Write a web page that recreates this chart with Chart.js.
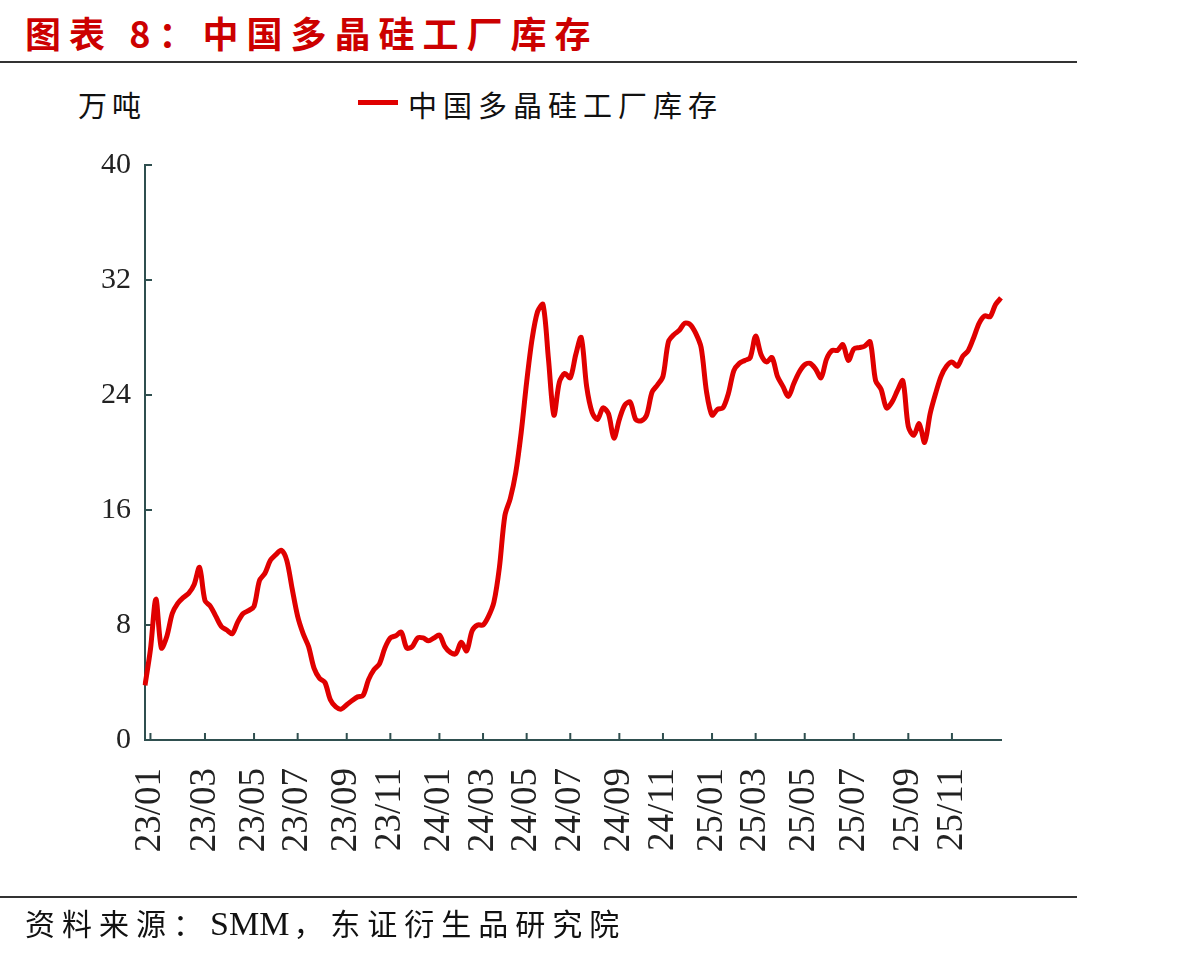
<!DOCTYPE html>
<html>
<head>
<meta charset="utf-8">
<script src="https://cdn.jsdelivr.net/npm/chart.js@4/dist/chart.umd.min.js"></script>
<style>
  body { margin: 0; background: #fff; }
  .page { position: relative; width: 1204px; height: 957px; overflow: hidden; }
  .title { position: absolute; left: 25px; top: 6px; font: 700 36px "Noto Sans CJK SC"; color: #cc0000; letter-spacing: 8px; white-space: nowrap; }
  .rule { position: absolute; left: 0; width: 1077px; height: 2px; background: #333; }
  .unit { position: absolute; left: 78px; top: 83px; font: 29px "Noto Sans CJK SC"; color: #111; letter-spacing: 5px; }
  .legend-line { position: absolute; left: 358px; top: 100px; width: 40px; height: 5px; background: #e00000; }
  .legend-text { position: absolute; left: 408px; top: 83px; font: 29px "Noto Sans CJK SC"; color: #111; letter-spacing: 6px; white-space: nowrap; }
  .source { position: absolute; left: 25px; top: 900px; font: 30px "Noto Sans CJK SC"; color: #111; letter-spacing: 7px; white-space: nowrap; }
  .source span { font-family: "Liberation Serif"; font-size: 34px; letter-spacing: 0; margin-right: 4px; }
  .chart-box { position: absolute; left: 0; top: 0; width: 1204px; height: 957px; }
</style>
</head>
<body>
<div class="page">
  <div class="title">图表 8：中国多晶硅工厂库存</div>
  <div class="rule" style="top:61px"></div>
  <div class="unit">万吨</div>
  <div class="legend-line"></div>
  <div class="legend-text">中国多晶硅工厂库存</div>
  <div class="chart-box"><canvas id="myChart"></canvas></div>
  <div class="rule" style="top:896px"></div>
  <div class="source">资料来源：<span>SMM</span>，东证衍生品研究院</div>
</div>
<script>
// 中国多晶硅工厂库存, 万吨, weekly
const values = [
  3.8, 6.3, 9.8, 6.4, 7.2, 8.8, 9.5, 9.9, 10.2, 10.8,
  12.0, 9.7, 9.3, 8.6, 7.9, 7.65, 7.4, 8.2, 8.8, 9.0,
  9.3, 11.1, 11.6, 12.5, 12.9, 13.2, 12.5, 10.5, 8.6, 7.4,
  6.5, 5.0, 4.3, 4.0, 2.8, 2.3, 2.15, 2.45, 2.75, 3.0,
  3.1, 4.2, 4.9, 5.3, 6.4, 7.1, 7.25, 7.5, 6.4, 6.5,
  7.1, 7.1, 6.9, 7.1, 7.3, 6.5, 6.1, 6.0, 6.8, 6.2,
  7.6, 8.0, 8.0, 8.6, 9.6, 12.0, 15.6, 16.8, 18.6, 21.4,
  24.9, 27.9, 29.8, 30.3, 26.5, 22.6, 24.9, 25.5, 25.2, 26.8,
  28.0, 24.6, 22.8, 22.3, 23.1, 22.7, 21.0, 22.3, 23.3, 23.5,
  22.3, 22.2, 22.6, 24.2, 24.7, 25.3, 27.7, 28.2, 28.5, 29.0,
  28.9, 28.3, 27.3, 24.2, 22.6, 23.0, 23.1, 24.1, 25.7, 26.2,
  26.4, 26.6, 28.1, 26.8, 26.3, 26.6, 25.3, 24.6, 23.9, 24.8,
  25.6, 26.1, 26.2, 25.8, 25.2, 26.5, 27.1, 27.1, 27.5, 26.4,
  27.2, 27.3, 27.4, 27.7, 25.0, 24.4, 23.1, 23.5, 24.3, 25.0,
  21.8, 21.2, 22.0, 20.7, 22.7, 24.1, 25.3, 26.0, 26.3, 26.0,
  26.7, 27.1, 28.0, 29.0, 29.5, 29.45, 30.3, 30.75
];

const tickLabels = ['23/01', '23/03', '23/05', '23/07', '23/09', '23/11',
  '24/01', '24/03', '24/05', '24/07', '24/09', '24/11',
  '25/01', '25/03', '25/05', '25/07', '25/09', '25/11'];
const tickIndex = [1, 11, 20, 28, 37, 45, 54, 62, 70, 78, 87, 95, 104, 112, 121, 130, 140, 148];
const yTicks = [0, 8, 16, 24, 32, 40];

const axisColor = '#2f4f4f';
const lineColor = '#e00000';

const labels = values.map((v, i) => {
  const k = tickIndex.indexOf(i);
  return k < 0 ? '' : tickLabels[k];
});

// short tick marks pointing into the plot, like the original
const innerTicks = {
  id: 'innerTicks',
  beforeDatasetsDraw(chart) {
    const {ctx, chartArea, scales: {x, y}} = chart;
    ctx.save();
    ctx.strokeStyle = axisColor;
    ctx.lineWidth = 2;
    ctx.beginPath();
    tickIndex.forEach(i => {
      const px = x.getPixelForValue(i);
      ctx.moveTo(px, chartArea.bottom);
      ctx.lineTo(px, chartArea.bottom - 7);
    });
    yTicks.forEach(v => {
      const py = y.getPixelForValue(v);
      ctx.moveTo(chartArea.left, py);
      ctx.lineTo(chartArea.left + 7, py);
    });
    ctx.stroke();
    ctx.restore();
  }
};

const ctx = document.getElementById('myChart').getContext('2d');
const myChart = new Chart(ctx, {
  type: 'line',
  data: {
    labels: labels,
    datasets: [{
      label: '中国多晶硅工厂库存',
      data: values,
      borderColor: lineColor,
      borderWidth: 5,
      pointRadius: 0,
      tension: 0.3,
      fill: false,
    }]
  },
  options: {
    responsive: true,
    maintainAspectRatio: false,
    animation: false,
    layout: { padding: { top: 165, right: 203, bottom: 87, left: 0 } },
    plugins: { legend: { display: false }, tooltip: { enabled: false } },
    scales: {
      x: {
        grid: { display: false, drawTicks: false },
        border: { display: true, color: axisColor, width: 2 },
        ticks: {
          autoSkip: false,
          minRotation: 90,
          maxRotation: 90,
          padding: 28,
          color: '#222',
          font: { family: 'Liberation Serif', size: 37 },
        },
        afterFit: s => { s.height = 130; },
      },
      y: {
        min: 0,
        max: 40,
        grid: { display: false, drawTicks: false },
        border: { display: true, color: axisColor, width: 2 },
        ticks: {
          stepSize: 8,
          padding: 14,
          color: '#222',
          font: { family: 'Liberation Serif', size: 30 },
        },
        afterFit: s => { s.width = 145; },
      }
    }
  },
  plugins: [innerTicks]
});
</script>
</body>
</html>
